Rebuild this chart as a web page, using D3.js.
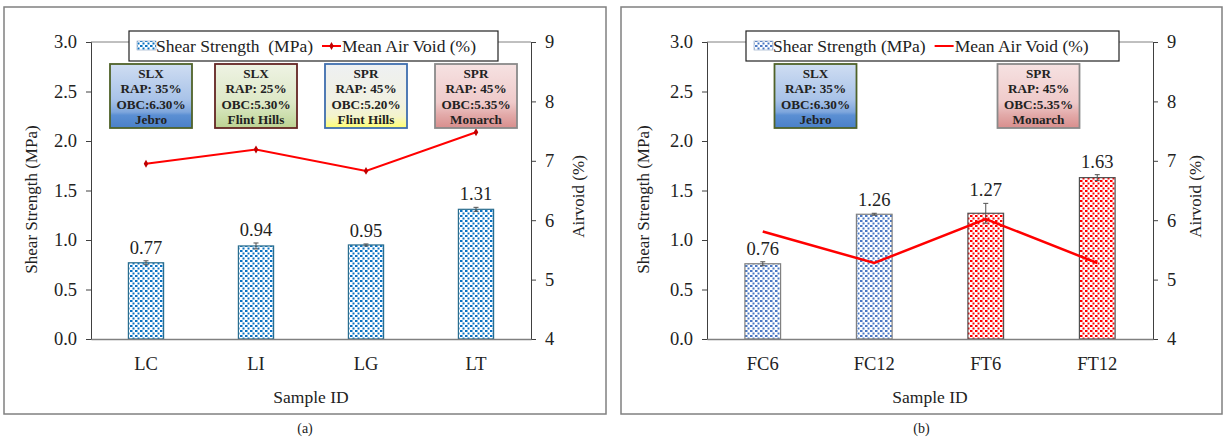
<!DOCTYPE html>
<html>
<head>
<meta charset="utf-8">
<script src="https://cdn.jsdelivr.net/npm/d3@7/dist/d3.min.js"></script>
<style>
  body { margin: 0; background: #fff; }
  text { font-family: "Liberation Serif", serif; fill: #222; }
</style>
</head>
<body>
<svg id="chart"></svg>
<script>
// chart data
const catsA = ["LC", "LI", "LG", "LT"];
const shearA = [0.77, 0.94, 0.95, 1.31];
const errA = [0.02, 0.03, 0.01, 0.02];
const voidA = [6.95, 7.19, 6.83, 7.48];

const catsB = ["FC6", "FC12", "FT6", "FT12"];
const shearB = [0.76, 1.26, 1.27, 1.63];
const errB = [0.02, 0.01, 0.10, 0.03];
const voidB = [5.81, 5.28, 6.02, 5.28];

const leftTicks = [0, 0.5, 1.0, 1.5, 2.0, 2.5, 3.0];
const rightTicks = [4, 5, 6, 7, 8, 9];

// info boxes: text lines
const boxesA = [
  ["SLX", "RAP: 35%", "OBC:6.30%", "Jebro"],
  ["SLX", "RAP: 25%", "OBC:5.30%", "Flint Hills"],
  ["SPR", "RAP: 45%", "OBC:5.20%", "Flint Hills"],
  ["SPR", "RAP: 45%", "OBC:5.35%", "Monarch"]
];
const boxesB = [
  ["SLX", "RAP: 35%", "OBC:6.30%", "Jebro"],
  ["SPR", "RAP: 45%", "OBC:5.35%", "Monarch"]
];

const svgWidth = 1225;
const svgHeight = 440;
const svg = d3.select("#chart")
  .attr("width", svgWidth)
  .attr("height", svgHeight)
  .attr("font-family", "Liberation Serif");

const defs = svg.append("defs");

// dotted fills like the excel "confetti" pattern
function dotPattern(id, color) {
  const p = defs.append("pattern")
    .attr("id", id)
    .attr("width", 5)
    .attr("height", 5)
    .attr("patternUnits", "userSpaceOnUse");
  p.append("rect").attr("width", 5).attr("height", 5).attr("fill", "#fff");
  p.append("rect").attr("x", 0).attr("y", 0).attr("width", 2.5).attr("height", 2).attr("fill", color);
  p.append("rect").attr("x", 2.5).attr("y", 2.5).attr("width", 2).attr("height", 2).attr("fill", color);
}
dotPattern("dotsA", "#0a72c2");
dotPattern("dotsBlue", "#4a78c4");
dotPattern("dotsRed", "#ff0000");

// gradients of the info boxes
function grad(id, stops) {
  const g = defs.append("linearGradient")
    .attr("id", id)
    .attr("x1", 0).attr("y1", 0).attr("x2", 0).attr("y2", 1);
  stops.forEach(s => g.append("stop").attr("offset", s[0]).attr("stop-color", s[1]));
}
grad("gBlue", [[0, "#cfddf2"], [0.55, "#a9c3e8"], [0.75, "#7ea6dc"], [0.8, "#5b8fd3"], [1, "#4a80c8"]]);
grad("gGreen", [[0, "#eef3e4"], [0.6, "#dde8c6"], [0.8, "#cddfae"], [1, "#bdd292"]]);
grad("gYellow", [[0, "#eef0f2"], [0.6, "#f1f1e2"], [0.82, "#f4f4cc"], [1, "#ffff70"]]);
grad("gPink", [[0, "#f6e2e2"], [0.6, "#efcaca"], [0.8, "#e2a9a8"], [1, "#d88e8d"]]);

const boxStylesA = [
  { fill: "url(#gBlue)", stroke: "#4f6228" },
  { fill: "url(#gGreen)", stroke: "#632523" },
  { fill: "url(#gYellow)", stroke: "#3f6eae" },
  { fill: "url(#gPink)", stroke: "#8a8a8a" }
];
const boxStylesB = [boxStylesA[0], boxStylesA[3]];

// one panel of the figure
function drawPanel(cfg) {
  const g = svg.append("g");

  // outer frame
  g.append("rect")
    .attr("x", cfg.frame[0]).attr("y", 7)
    .attr("width", cfg.frame[1] - cfg.frame[0]).attr("height", 407)
    .attr("fill", "none").attr("stroke", "#808080").attr("stroke-width", 1.5);

  const top = 42, bottom = 339;
  const x = d3.scaleBand().domain(cfg.cats).range([cfg.left, cfg.right]).paddingInner(0.68).paddingOuter(0.34);
  const y = d3.scaleLinear().domain([0, 3]).range([bottom, top]);
  const y2 = d3.scaleLinear().domain([4, 9]).range([bottom, top]);

  // top border of plot area
  g.append("line")
    .attr("x1", cfg.left).attr("x2", cfg.right).attr("y1", top).attr("y2", top)
    .attr("stroke", "#808080");

  // bars
  g.selectAll(".bar").data(cfg.cats).enter().append("rect")
    .attr("x", d => x(d))
    .attr("y", (d, i) => y(cfg.shear[i]))
    .attr("width", x.bandwidth())
    .attr("height", (d, i) => bottom - y(cfg.shear[i]))
    .attr("fill", (d, i) => cfg.fills[i])
    .attr("stroke", (d, i) => cfg.barStroke[i])
    .attr("stroke-width", 1.2);

  // error bars
  const eb = g.selectAll(".err").data(cfg.cats).enter().append("g").attr("stroke", "#505050").attr("stroke-width", 1);
  eb.append("line")
    .attr("x1", d => x(d) + x.bandwidth() / 2).attr("x2", d => x(d) + x.bandwidth() / 2)
    .attr("y1", (d, i) => y(cfg.shear[i] - cfg.err[i])).attr("y2", (d, i) => y(cfg.shear[i] + cfg.err[i]));
  [-1, 1].forEach(s => {
    eb.append("line")
      .attr("x1", d => x(d) + x.bandwidth() / 2 - 2.5).attr("x2", d => x(d) + x.bandwidth() / 2 + 2.5)
      .attr("y1", (d, i) => y(cfg.shear[i] + s * cfg.err[i])).attr("y2", (d, i) => y(cfg.shear[i] + s * cfg.err[i]));
  });

  // value labels
  g.selectAll(".val").data(cfg.cats).enter().append("text")
    .attr("x", d => x(d) + x.bandwidth() / 2)
    .attr("y", (d, i) => y(cfg.shear[i] + cfg.err[i]) - 7)
    .attr("text-anchor", "middle")
    .attr("font-size", 18.5)
    .text((d, i) => cfg.shear[i].toFixed(2));

  // air void line
  const line = d3.line().x((d, i) => x(cfg.cats[i]) + x.bandwidth() / 2).y(d => y2(d));
  g.append("path")
    .datum(cfg.voids)
    .attr("d", line)
    .attr("fill", "none")
    .attr("stroke", "#ff0000")
    .attr("stroke-width", cfg.markers ? 2 : 2.5);
  if (cfg.markers) {
    g.selectAll(".mk").data(cfg.voids).enter().append("path")
      .attr("d", d3.symbol(d3.symbolDiamond, 18))
      .attr("transform", (d, i) => `translate(${x(cfg.cats[i]) + x.bandwidth() / 2},${y2(d)})`)
      .attr("fill", "#c00000");
  }

  // axes
  const axL = g.append("g").attr("transform", `translate(${cfg.left},0)`)
    .call(d3.axisLeft(y).tickValues(leftTicks).tickSize(5).tickPadding(9).tickFormat(d3.format(".1f")));
  const axR = g.append("g").attr("transform", `translate(${cfg.right},0)`)
    .call(d3.axisRight(y2).tickValues(rightTicks).tickSize(5).tickPadding(9).tickFormat(d3.format("d")));
  const axB = g.append("g").attr("transform", `translate(0,${bottom})`)
    .call(d3.axisBottom(x).tickSize(0).tickPadding(18));
  [axL, axR, axB].forEach(a => {
    a.attr("font-family", "Liberation Serif");
    a.selectAll("text").attr("font-size", 18.5).attr("fill", "#222");
    a.selectAll("line").attr("stroke", "#404040");
  });
  axL.select(".domain").attr("stroke", "#404040");
  axR.select(".domain").attr("stroke", "#404040");
  axB.select(".domain").attr("stroke", "#808080").attr("stroke-width", 1.5);

  // axis titles
  g.append("text")
    .attr("transform", `translate(${cfg.left - cfg.titleL},${(top + bottom) / 2 + 9}) rotate(-90)`)
    .attr("text-anchor", "middle").attr("font-size", 17)
    .text("Shear Strength (MPa)");
  g.append("text")
    .attr("transform", `translate(${cfg.right + cfg.titleR},${(top + bottom) / 2 + 6}) rotate(-90)`)
    .attr("text-anchor", "middle").attr("font-size", 17)
    .text("Airvoid (%)");
  g.append("text")
    .attr("x", (cfg.left + cfg.right) / 2).attr("y", 403)
    .attr("text-anchor", "middle").attr("font-size", 17.5)
    .text("Sample ID");
  g.append("text")
    .attr("x", (cfg.frame[0] + cfg.frame[1]) / 2).attr("y", 433)
    .attr("text-anchor", "middle").attr("font-size", 14)
    .text(cfg.caption);

  // info boxes
  const bw = 82, bh = 64;
  cfg.boxes.forEach((lines, i) => {
    const cx = cfg.boxX(x, i);
    const b = g.append("g").attr("transform", `translate(${cx - bw / 2},64)`);
    b.append("rect")
      .attr("width", bw).attr("height", bh)
      .attr("fill", cfg.boxStyles[i].fill)
      .attr("stroke", cfg.boxStyles[i].stroke).attr("stroke-width", 1.8);
    lines.forEach((t, j) => {
      b.append("text")
        .attr("x", bw / 2).attr("y", 14 + j * 15.3)
        .attr("text-anchor", "middle")
        .attr("font-size", 13.2).attr("font-weight", "bold")
        .attr("fill", "#111")
        .text(t);
    });
  });

  // legend
  const lg = g.append("g");
  lg.append("rect")
    .attr("x", cfg.legend[0]).attr("y", 31)
    .attr("width", cfg.legend[1] - cfg.legend[0]).attr("height", 30)
    .attr("fill", "#fff").attr("stroke", "#222").attr("stroke-width", 1.2);
  lg.append("rect")
    .attr("x", cfg.legend[0] + 8).attr("y", 41)
    .attr("width", 19).attr("height", 9)
    .attr("fill", cfg.legendFill).attr("stroke", "#8aa0c0").attr("stroke-width", 0.6);
  const t1 = lg.append("text")
    .attr("x", cfg.legend[0] + 27).attr("y", 52)
    .attr("font-size", 17.5)
    .attr("xml:space", "preserve")
    .text(cfg.legendText);
  const lx = cfg.legend[0] + 27 + t1.node().getComputedTextLength() + 9;
  lg.append("line")
    .attr("x1", lx).attr("x2", lx + 19).attr("y1", 46).attr("y2", 46)
    .attr("stroke", "#ff0000").attr("stroke-width", 2);
  if (cfg.markers) {
    lg.append("path").attr("d", d3.symbol(d3.symbolDiamond, 18))
      .attr("transform", `translate(${lx + 9.5},46)`).attr("fill", "#c00000");
  }
  lg.append("text")
    .attr("x", lx + 20).attr("y", 52)
    .attr("font-size", 17.5)
    .text("Mean Air Void (%)");
}

drawPanel({
  frame: [4, 606], left: 91, right: 531,
  cats: catsA, shear: shearA, err: errA, voids: voidA,
  fills: catsA.map(() => "url(#dotsA)"),
  barStroke: catsA.map(() => "#2a6d8e"),
  markers: true,
  boxes: boxesA, boxStyles: boxStylesA,
  boxX: (x, i) => x(catsA[i]) + x.bandwidth() / 2 + (i === 0 ? 5 : 0),
  legend: [129, 498], legendFill: "url(#dotsA)", legendText: "Shear Strength  (MPa)",
  titleL: 54, titleR: 53,
  caption: "(a)"
});

drawPanel({
  frame: [621, 1222], left: 707, right: 1153,
  cats: catsB, shear: shearB, err: errB, voids: voidB,
  fills: ["url(#dotsBlue)", "url(#dotsBlue)", "url(#dotsRed)", "url(#dotsRed)"],
  barStroke: ["#808080", "#808080", "#505050", "#505050"],
  markers: false,
  boxes: boxesB, boxStyles: boxStylesB,
  boxX: (x, i) => (x(catsB[2 * i]) + x(catsB[2 * i + 1]) + x.bandwidth()) / 2 - 3,
  legend: [746, 1119], legendFill: "url(#dotsBlue)", legendText: "Shear Strength (MPa)",
  titleL: 58, titleR: 48,
  caption: "(b)"
});
</script>
</body>
</html>
